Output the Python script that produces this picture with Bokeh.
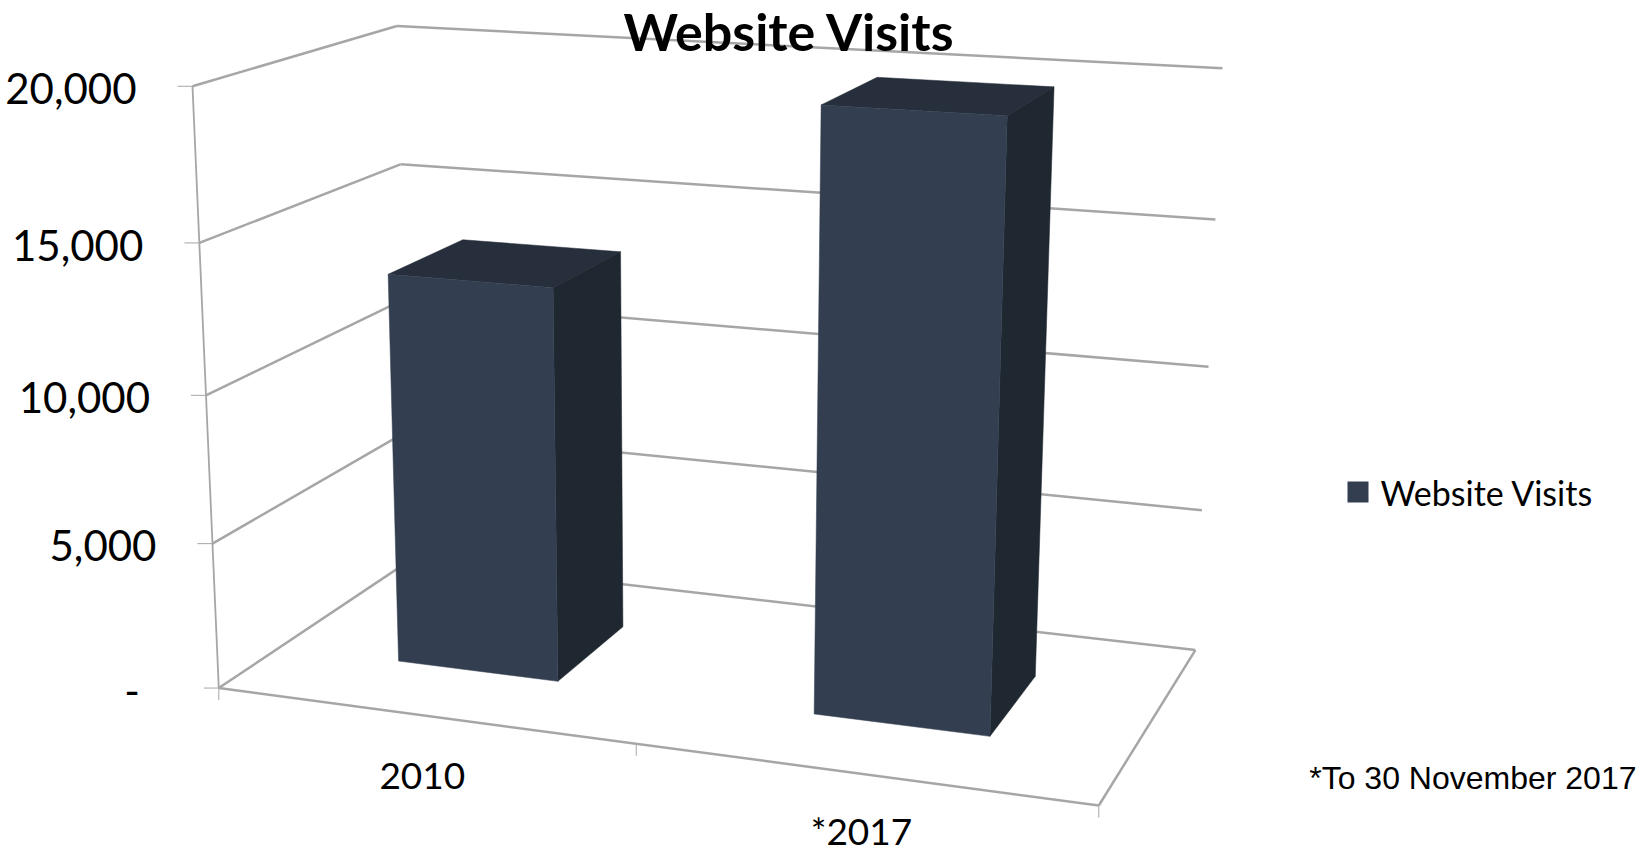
import numpy as np
from bokeh.core.properties import value
from bokeh.embed import file_html
from bokeh.models import Range1d
from bokeh.plotting import figure
from bokeh.resources import INLINE

# ---- data ----
title = "Website Visits"
categories = ["2010", "*2017"]
visits = [13400, 19800]
axis_values = [0, 5000, 10000, 15000, 20000]
axis_labels = ["-", "5,000", "10,000", "15,000", "20,000"]
footnote = "*To 30 November 2017"

# ---- colours ----
FRONT, SIDE, TOP = "#333f50", "#1f2731", "#262f3b"
GRID = "#a6a6a6"
INK = "#000000"

# ---- camera of the 3-D chart: fitted to the box corners seen in the picture ----
# (category position, value, depth) -> page pixel
calib = [
    ((0, 0, 0), (218.6, 688)), ((0, 20000, 0), (192, 86)),
    ((0, 15000, 0), (199, 242)), ((0, 10000, 0), (205.5, 394)),
    ((0, 5000, 0), (212, 543)),
    ((0, 20000, 1), (396, 25.7)), ((0, 15000, 1), (400, 164)),
    ((2, 20000, 1), (1222, 68)), ((2, 15000, 1), (1215, 219)),
    ((2, 10000, 1), (1208, 366)), ((2, 5000, 1), (1202, 510)),
    ((2, 0, 1), (1194.5, 649)), ((2, 0, 0), (1098, 805)),
    ((1, 0, 0), (635.5, 744)),
]
A, b = [], []
for (X, V, Z), (u, w) in calib:
    Y = V / 20000
    A.append([X, Y, Z, 1, 0, 0, 0, 0, -u * X, -u * Y, -u * Z])
    A.append([0, 0, 0, 0, X, Y, Z, 1, -w * X, -w * Y, -w * Z])
    b += [u, w]
P = np.append(np.linalg.lstsq(np.array(A, float), np.array(b, float), rcond=None)[0], 1).reshape(3, 4)


def proj(X, V, Z):
    h = P @ np.array([X, V / 20000, Z, 1.0])
    return float(h[0] / h[2]), float(h[1] / h[2])


def line(p, a, b, width=2.5):
    (x0, y0), (x1, y1) = proj(*a), proj(*b)
    p.line([x0, x1], [y0, y1], line_color=GRID, line_width=width)


def face(p, pts, color):
    xy = [proj(*q) for q in pts]
    p.patch([q[0] for q in xy], [q[1] for q in xy], fill_color=color, line_color=color, line_width=0.5)


def label(p, x, base, s, size, align, font="Lato", style="normal"):
    # the "middle" anchor sits about 0.33 em above the baseline of the digits
    p.text([x], [base - 0.33 * size], text=[s], text_font=value(font), text_font_size=f"{size}px",
           text_font_style=style, text_color=INK, text_align=align, text_baseline="middle")


p = figure(width=1640, height=852, output_backend="svg", toolbar_location=None,
           x_range=Range1d(0, 1640), y_range=Range1d(852, 0),
           min_border=0, outline_line_color=None)
p.axis.visible = False
p.grid.visible = False
p.background_fill_color = "#ffffff"
p.border_fill_color = "#ffffff"

XMAX = len(categories)
# walls and floor
for v in axis_values:
    line(p, (0, v, 0), (0, v, 1))
    line(p, (0, v, 1), (XMAX, v, 1))
line(p, (0, 0, 0), (XMAX, 0, 0))
line(p, (XMAX, 0, 0), (XMAX, 0, 1))
line(p, (0, 0, 0), (0, 20000, 0), 1.8)

# tick marks
for v in axis_values:
    x, y = proj(0, v, 0)
    p.line([x - 15, x], [y, y], line_color=GRID, line_width=1)
for i in range(XMAX + 1):
    x, y = proj(i, 0, 0)
    p.line([x, x], [y, y + 12], line_color=GRID, line_width=1)

# bars
BAR_LO, BAR_HI = 0.30, 0.695
Z_LO, Z_HI = 0.3, 0.70
for i, v in enumerate(visits):
    x0, x1 = i + BAR_LO, i + BAR_HI
    face(p, [(x0, v, Z_LO), (x1, v, Z_LO), (x1, v, Z_HI), (x0, v, Z_HI)], TOP)
    face(p, [(x1, 0, Z_LO), (x1, v, Z_LO), (x1, v, Z_HI), (x1, 0, Z_HI)], SIDE)
    face(p, [(x0, 0, Z_LO), (x1, 0, Z_LO), (x1, v, Z_LO), (x0, v, Z_LO)], FRONT)

# value labels
for v, s in zip(axis_values, axis_labels):
    x, y = proj(0, v, 0)
    x -= 79 if v == 0 else 56
    label(p, x, y + 16, s, 42, "right")

# category labels
cat_y = [788, 842]
for i, s in enumerate(categories):
    x, _ = proj(i + 0.5, 0, 0)
    label(p, x, cat_y[i], s, 37, "center")

# title
label(p, 789, 48, title, 52, "center", style="bold")

# legend
p.quad(left=[1347], right=[1368], top=[481], bottom=[502], fill_color=FRONT, line_color=None)
label(p, 1380, 503, title, 34, "left")

# footnote
label(p, 1636, 788, footnote, 32, "right", font="Liberation Sans")

open("out.html", "w").write(file_html(p, INLINE))
